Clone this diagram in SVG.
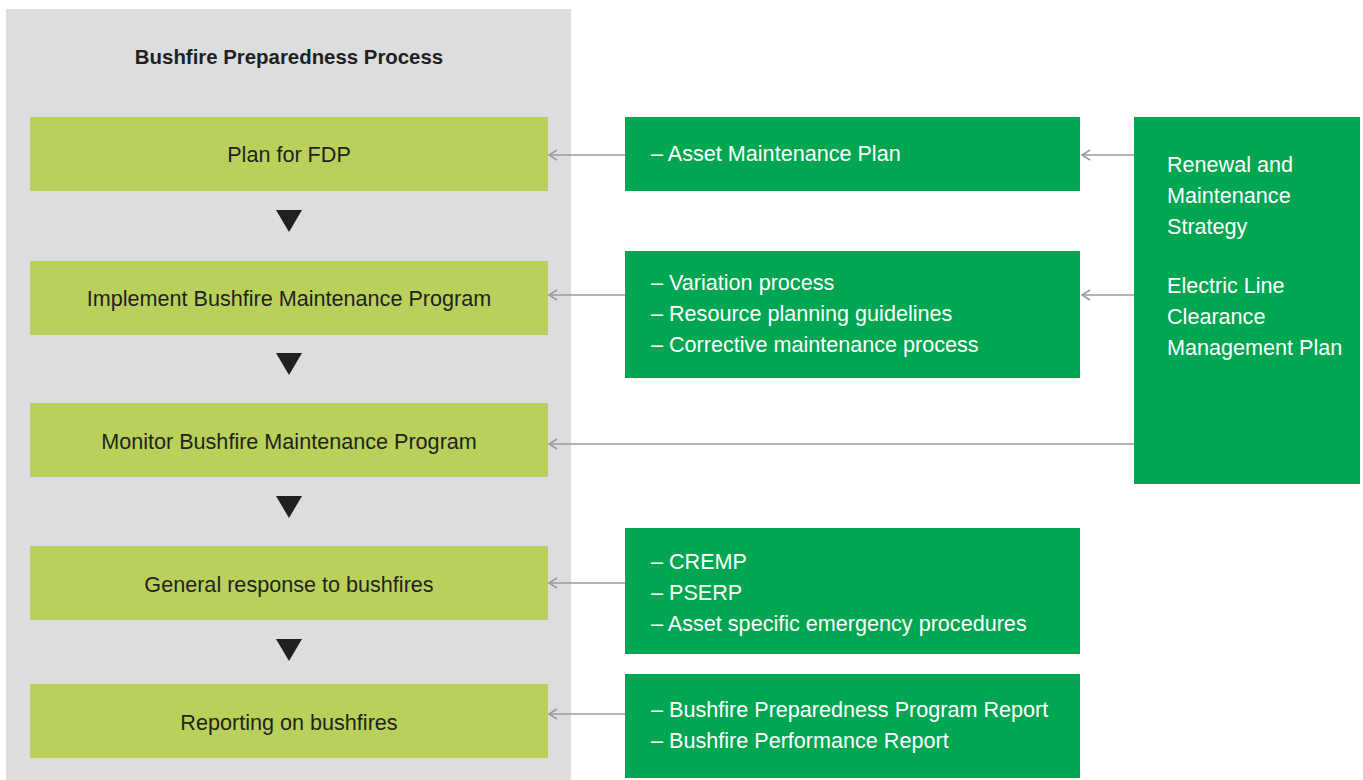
<svg xmlns="http://www.w3.org/2000/svg" width="1363" height="780" viewBox="0 0 1363 780">
  <defs>
    <marker id="open-arrow" viewBox="0 0 12 12" refX="10" refY="6" markerWidth="12" markerHeight="12" markerUnits="userSpaceOnUse" orient="auto">
      <path d="M2,1 L10,6 L2,11" fill="none" stroke="#9a9a9a" stroke-width="1.5"/>
    </marker>
    <style>
      .panel { fill: #dcdddf; }
      .step { fill: #b9d15a; }
      .doc { fill: #00a651; }
      .step-text { font-family: "Liberation Sans", Arial, sans-serif; font-size: 21.6px; fill: #231f20; text-anchor: middle; }
      .title { font-family: "Liberation Sans", Arial, sans-serif; font-size: 20.4px; font-weight: bold; fill: #231f20; text-anchor: middle; }
      .doc-text { font-family: "Liberation Sans", Arial, sans-serif; font-size: 21.6px; fill: #ffffff; }
      .link { stroke: #9a9a9a; stroke-width: 1.5; fill: none; marker-end: url(#open-arrow); }
      .flow { fill: #231f20; }
    </style>
  </defs>

  <rect width="1363" height="780" fill="#ffffff"/>

  <!-- process panel -->
  <g id="process-panel">
    <rect class="panel" x="6" y="9" width="565" height="771"/>
    <text class="title" x="289" y="64">Bushfire Preparedness Process</text>
  </g>

  <g id="step-plan">
    <rect class="step" x="30" y="117" width="518" height="74"/>
    <text class="step-text" x="289" y="162">Plan for FDP</text>
  </g>
  <g id="step-implement">
    <rect class="step" x="30" y="261" width="518" height="74"/>
    <text class="step-text" x="289" y="306">Implement Bushfire Maintenance Program</text>
  </g>
  <g id="step-monitor">
    <rect class="step" x="30" y="403" width="518" height="74"/>
    <text class="step-text" x="289" y="449">Monitor Bushfire Maintenance Program</text>
  </g>
  <g id="step-response">
    <rect class="step" x="30" y="546" width="518" height="74"/>
    <text class="step-text" x="289" y="592">General response to bushfires</text>
  </g>
  <g id="step-reporting">
    <rect class="step" x="30" y="684" width="518" height="74"/>
    <text class="step-text" x="289" y="730">Reporting on bushfires</text>
  </g>

  <!-- flow arrows between steps -->
  <g id="flow-arrows">
    <polygon class="flow" points="276,210 302,210 289,232"/>
    <polygon class="flow" points="276,353 302,353 289,375"/>
    <polygon class="flow" points="276,496 302,496 289,518"/>
    <polygon class="flow" points="276,639 302,639 289,661"/>
  </g>

  <!-- supporting documents -->
  <g id="doc-asset-plan">
    <rect class="doc" x="625" y="117" width="455" height="74"/>
    <text class="doc-text" x="651" y="161">– Asset Maintenance Plan</text>
  </g>
  <g id="doc-maintenance">
    <rect class="doc" x="625" y="251" width="455" height="127"/>
    <text class="doc-text" x="651" y="290">– Variation process</text>
    <text class="doc-text" x="651" y="321">– Resource planning guidelines</text>
    <text class="doc-text" x="651" y="352">– Corrective maintenance process</text>
  </g>
  <g id="doc-emergency">
    <rect class="doc" x="625" y="528" width="455" height="126"/>
    <text class="doc-text" x="651" y="569">– CREMP</text>
    <text class="doc-text" x="651" y="600">– PSERP</text>
    <text class="doc-text" x="651" y="631">– Asset specific emergency procedures</text>
  </g>
  <g id="doc-reports">
    <rect class="doc" x="625" y="674" width="455" height="104"/>
    <text class="doc-text" x="651" y="717">– Bushfire Preparedness Program Report</text>
    <text class="doc-text" x="651" y="748">– Bushfire Performance Report</text>
  </g>
  <g id="doc-strategy">
    <rect class="doc" x="1134" y="117" width="226" height="367"/>
    <text class="doc-text" x="1167" y="172">Renewal and</text>
    <text class="doc-text" x="1167" y="203">Maintenance</text>
    <text class="doc-text" x="1167" y="234">Strategy</text>
    <text class="doc-text" x="1167" y="293">Electric Line</text>
    <text class="doc-text" x="1167" y="324">Clearance</text>
    <text class="doc-text" x="1167" y="355">Management Plan</text>
  </g>

  <!-- connectors -->
  <g id="connectors">
    <line class="link" x1="625" y1="155" x2="549" y2="155"/>
    <line class="link" x1="1134" y1="155" x2="1082" y2="155"/>
    <line class="link" x1="625" y1="295" x2="549" y2="295"/>
    <line class="link" x1="1134" y1="295" x2="1082" y2="295"/>
    <line class="link" x1="1134" y1="444" x2="549" y2="444"/>
    <line class="link" x1="625" y1="583" x2="549" y2="583"/>
    <line class="link" x1="625" y1="714" x2="549" y2="714"/>
  </g>
</svg>
